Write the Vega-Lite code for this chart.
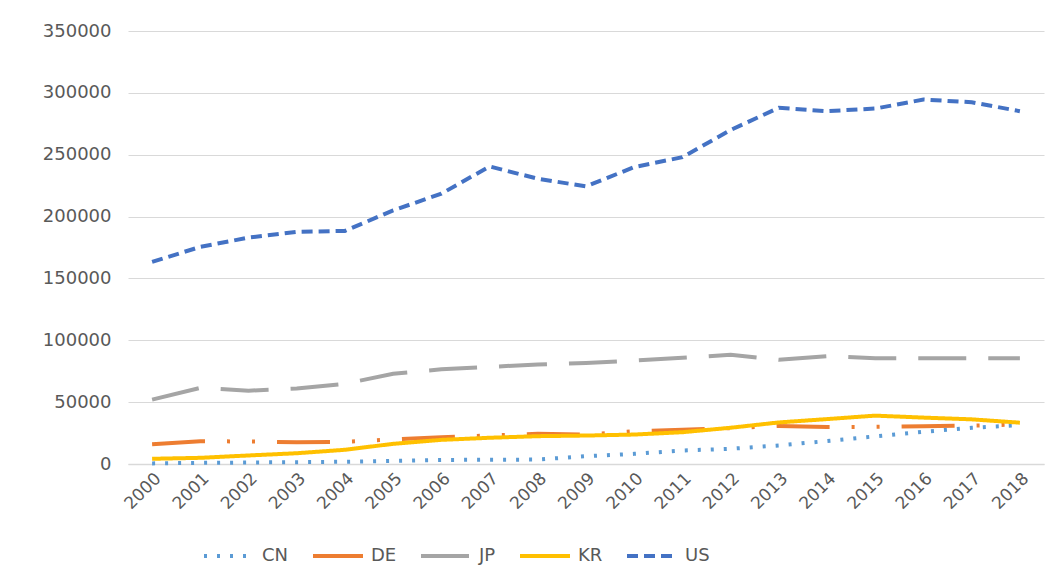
{
  "$schema": "https://vega.github.io/schema/vega-lite/v6.json",
  "width": 916,
  "height": 433,
  "autosize": {"type": "none"},
  "padding": {"left": 128, "top": 31, "right": 20, "bottom": 121},
  "background": "white",
  "config": {
    "view": {"stroke": null},
    "font": "DejaVu Sans"
  },
  "data": {
    "values": [
      {"year": "2000", "country": "CN", "value": 500},
      {"year": "2001", "country": "CN", "value": 900},
      {"year": "2002", "country": "CN", "value": 1200},
      {"year": "2003", "country": "CN", "value": 1500},
      {"year": "2004", "country": "CN", "value": 1800},
      {"year": "2005", "country": "CN", "value": 2500},
      {"year": "2006", "country": "CN", "value": 3300},
      {"year": "2007", "country": "CN", "value": 3400},
      {"year": "2008", "country": "CN", "value": 3600},
      {"year": "2009", "country": "CN", "value": 6300},
      {"year": "2010", "country": "CN", "value": 8200},
      {"year": "2011", "country": "CN", "value": 10900},
      {"year": "2012", "country": "CN", "value": 12300},
      {"year": "2013", "country": "CN", "value": 15000},
      {"year": "2014", "country": "CN", "value": 18600},
      {"year": "2015", "country": "CN", "value": 22400},
      {"year": "2016", "country": "CN", "value": 26000},
      {"year": "2017", "country": "CN", "value": 29300},
      {"year": "2018", "country": "CN", "value": 31400},
      {"year": "2000", "country": "DE", "value": 16000},
      {"year": "2001", "country": "DE", "value": 18400},
      {"year": "2002", "country": "DE", "value": 18200},
      {"year": "2003", "country": "DE", "value": 17500},
      {"year": "2004", "country": "DE", "value": 18000},
      {"year": "2005", "country": "DE", "value": 19800},
      {"year": "2006", "country": "DE", "value": 21700},
      {"year": "2007", "country": "DE", "value": 23000},
      {"year": "2008", "country": "DE", "value": 24400},
      {"year": "2009", "country": "DE", "value": 23800},
      {"year": "2010", "country": "DE", "value": 26500},
      {"year": "2011", "country": "DE", "value": 27600},
      {"year": "2012", "country": "DE", "value": 29000},
      {"year": "2013", "country": "DE", "value": 30800},
      {"year": "2014", "country": "DE", "value": 30000},
      {"year": "2015", "country": "DE", "value": 30000},
      {"year": "2016", "country": "DE", "value": 30500},
      {"year": "2017", "country": "DE", "value": 31000},
      {"year": "2018", "country": "DE", "value": 32000},
      {"year": "2000", "country": "JP", "value": 52000},
      {"year": "2001", "country": "JP", "value": 61500},
      {"year": "2002", "country": "JP", "value": 59300},
      {"year": "2003", "country": "JP", "value": 61000},
      {"year": "2004", "country": "JP", "value": 64800},
      {"year": "2005", "country": "JP", "value": 73000},
      {"year": "2006", "country": "JP", "value": 76500},
      {"year": "2007", "country": "JP", "value": 78500},
      {"year": "2008", "country": "JP", "value": 80500},
      {"year": "2009", "country": "JP", "value": 81700},
      {"year": "2010", "country": "JP", "value": 83600},
      {"year": "2011", "country": "JP", "value": 85800},
      {"year": "2012", "country": "JP", "value": 88300},
      {"year": "2013", "country": "JP", "value": 84200},
      {"year": "2014", "country": "JP", "value": 87200},
      {"year": "2015", "country": "JP", "value": 85500},
      {"year": "2016", "country": "JP", "value": 85500},
      {"year": "2017", "country": "JP", "value": 85500},
      {"year": "2018", "country": "JP", "value": 85500},
      {"year": "2000", "country": "KR", "value": 4200},
      {"year": "2001", "country": "KR", "value": 5000},
      {"year": "2002", "country": "KR", "value": 6900},
      {"year": "2003", "country": "KR", "value": 8700},
      {"year": "2004", "country": "KR", "value": 11500},
      {"year": "2005", "country": "KR", "value": 16300},
      {"year": "2006", "country": "KR", "value": 19500},
      {"year": "2007", "country": "KR", "value": 21200},
      {"year": "2008", "country": "KR", "value": 22500},
      {"year": "2009", "country": "KR", "value": 23000},
      {"year": "2010", "country": "KR", "value": 23800},
      {"year": "2011", "country": "KR", "value": 25700},
      {"year": "2012", "country": "KR", "value": 29300},
      {"year": "2013", "country": "KR", "value": 33600},
      {"year": "2014", "country": "KR", "value": 36300},
      {"year": "2015", "country": "KR", "value": 39100},
      {"year": "2016", "country": "KR", "value": 37500},
      {"year": "2017", "country": "KR", "value": 36100},
      {"year": "2018", "country": "KR", "value": 33400},
      {"year": "2000", "country": "US", "value": 163400},
      {"year": "2001", "country": "US", "value": 175500},
      {"year": "2002", "country": "US", "value": 183000},
      {"year": "2003", "country": "US", "value": 187600},
      {"year": "2004", "country": "US", "value": 188400},
      {"year": "2005", "country": "US", "value": 205000},
      {"year": "2006", "country": "US", "value": 218500},
      {"year": "2007", "country": "US", "value": 240500},
      {"year": "2008", "country": "US", "value": 230600},
      {"year": "2009", "country": "US", "value": 224400},
      {"year": "2010", "country": "US", "value": 240000},
      {"year": "2011", "country": "US", "value": 248000},
      {"year": "2012", "country": "US", "value": 270000},
      {"year": "2013", "country": "US", "value": 287900},
      {"year": "2014", "country": "US", "value": 285200},
      {"year": "2015", "country": "US", "value": 287300},
      {"year": "2016", "country": "US", "value": 294600},
      {"year": "2017", "country": "US", "value": 292400},
      {"year": "2018", "country": "US", "value": 285200}
    ]
  },
  "mark": {"type": "line", "strokeWidth": 4},
  "encoding": {
    "x": {
      "field": "year",
      "type": "ordinal",
      "scale": {"padding": 0.5},
      "axis": {
        "title": null,
        "labelAngle": -45,
        "labelFontSize": 17,
        "labelColor": "#595959",
        "ticks": false,
        "labelPadding": 6,
        "domainColor": "#d9d9d9",
        "domainWidth": 1.5,
        "grid": false
      }
    },
    "y": {
      "field": "value",
      "type": "quantitative",
      "scale": {"domain": [0, 350000], "nice": false},
      "axis": {
        "title": null,
        "values": [0, 50000, 100000, 150000, 200000, 250000, 300000, 350000],
        "format": "d",
        "labelFontSize": 18,
        "labelColor": "#595959",
        "ticks": false,
        "domain": false,
        "labelPadding": 17,
        "gridColor": "#d9d9d9",
        "gridWidth": 1.2
      }
    },
    "color": {
      "field": "country",
      "type": "nominal",
      "scale": {
        "domain": ["CN", "DE", "JP", "KR", "US"],
        "range": ["#5B9BD5", "#ED7D31", "#A5A5A5", "#FFC000", "#4472C4"]
      },
      "legend": {
        "title": null,
        "orient": "none",
        "legendX": 74,
        "legendY": 498,
        "direction": "horizontal",
        "symbolType": "stroke",
        "symbolSize": 2500,
        "symbolStrokeWidth": 4,
        "labelFontSize": 18,
        "labelColor": "#595959",
        "columnPadding": 16,
        "labelOffset": 6
      }
    },
    "strokeDash": {
      "field": "country",
      "type": "nominal",
      "scale": {
        "domain": ["CN", "DE", "JP", "KR", "US"],
        "range": [[3, 10], [53, 22, 3, 22, 3, 22], [48, 22], [1, 0], [11, 6]]
      }
    }
  }
}
